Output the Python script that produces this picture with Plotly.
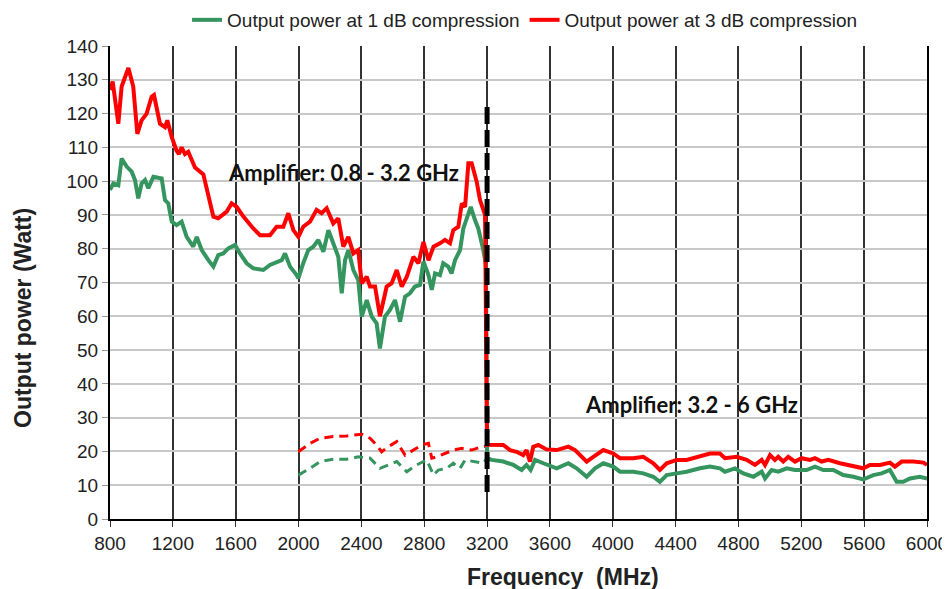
import plotly.graph_objects as go

# ---- data ----
freq_3db = [800, 817, 853, 874, 917, 948, 974, 1001, 1033, 1065, 1080, 1118, 1150, 1165, 1193, 1224, 1239, 1256, 1277, 1298,
            1341, 1394, 1458, 1489, 1543, 1574, 1606, 1649, 1712, 1755, 1818, 1861, 1903, 1935, 1967, 1999, 2030, 2073, 2115,
            2147, 2179, 2221, 2253, 2285, 2317, 2349, 2380, 2402, 2434, 2455, 2487, 2518, 2561, 2593, 2625, 2657, 2689, 2731,
            2763, 2795, 2827, 2859, 2900, 2932, 2964, 2985, 3017, 3039, 3060, 3081, 3102, 3134, 3155, 3187, 3200, 3229, 3303,
            3346, 3388, 3430, 3451, 3473, 3494, 3526, 3579, 3643, 3717, 3760, 3834, 3876, 3940, 4003, 4046, 4131, 4194, 4258,
            4300, 4343, 4407, 4470, 4534, 4619, 4682, 4714, 4789, 4852, 4905, 4948, 4969, 5001, 5032, 5053, 5085, 5117, 5160,
            5202, 5255, 5287, 5329, 5372, 5446, 5531, 5594, 5637, 5701, 5764, 5796, 5839, 5913, 5977, 6000]
power_3db = [127, 129.5, 117, 128, 133.5, 128, 114, 118, 120, 125, 125.5, 117, 116, 118, 113, 109, 108, 110, 108, 108.7,
             104, 102, 89.5, 89, 91, 93.4, 92.4, 89.5, 86, 84, 84, 86.5, 86.5, 90.5, 85.5, 83.5, 86.5, 88, 91.5,
             90.5, 92, 87.5, 89, 80.6, 83.5, 78.6, 79.6, 69.8, 71.7, 68.8, 68.8, 60, 68.8, 69.8, 73.7, 68.8, 71.7, 77.6,
             75.7, 82, 76.6, 80.6, 81.6, 82.6, 81.6, 85.5, 86.5, 93.4, 92.4, 105.3, 105.3, 99.8, 94.4, 90, 22, 21.9, 21.9,
             20.4, 19.9, 18.9, 20.4, 17, 21.4, 21.9, 20.6, 20.4, 21.4, 20.4, 17, 18.4, 20.4, 19.4, 18, 18, 18.4, 16.5,
             14.5, 16.5, 17.5, 17.5, 18.4, 19.4, 19.4, 18, 18.4, 17.5, 16, 17.5, 16, 18.9, 17.5, 18.4, 17, 18.4, 17,
             18, 17.5, 18, 17, 17.5, 16.5, 15.5, 15, 16, 16, 16.7, 15.5, 17, 17, 16.7, 16]

freq_1db = [800, 821, 853, 874, 906, 938, 959, 980, 1001, 1023, 1044, 1076, 1129, 1150, 1171, 1193, 1224, 1256, 1288, 1330,
            1352, 1384, 1426, 1458, 1489, 1521, 1553, 1596, 1627, 1670, 1712, 1776, 1818, 1850, 1893, 1914, 1946, 1988, 1999,
            2030, 2062, 2094, 2126, 2158, 2190, 2221, 2253, 2275, 2296, 2317, 2349, 2380, 2402, 2434, 2466, 2497, 2518, 2550,
            2582, 2614, 2646, 2678, 2709, 2741, 2773, 2795, 2827, 2848, 2869, 2900, 2921, 2953, 2974, 2996, 3028, 3049, 3070,
            3096, 3123, 3144, 3176, 3193, 3200, 3229, 3303, 3367, 3420, 3451, 3477, 3505, 3558, 3643, 3717, 3770, 3834, 3887,
            3940, 4003, 4046, 4131, 4194, 4258, 4300, 4343, 4407, 4470, 4555, 4619, 4682, 4714, 4778, 4831, 4895, 4948, 4969,
            5011, 5053, 5107, 5160, 5234, 5287, 5340, 5404, 5467, 5531, 5594, 5658, 5711, 5764, 5807, 5849, 5892, 5955, 6000]
power_1db = [97.4, 99.3, 98.8, 106.7, 104.3, 102.8, 100.3, 94.9, 99.3, 100.3, 97.9, 101.3, 100.8, 94.4, 93.4, 88, 87, 88, 83.5, 80.6,
             83.5, 79.6, 76.6, 74.7, 78.1, 78.6, 80.1, 81.1, 78.6, 75.7, 74.2, 73.7, 75.2, 75.7, 76.6, 78.6, 74.7, 72.2, 71.2,
             75.7, 79.6, 80.6, 82.6, 79.1, 85.5, 81.6, 77.6, 66.8, 76.6, 79.6, 73.7, 70.7, 59.9, 64.8, 59.9, 57.9, 50.5, 59.9,
             61.9, 64.8, 58.4, 65.8, 66.8, 68.8, 69.3, 76.2, 72.2, 67.8, 72.7, 72.2, 75.7, 74.7, 72.7, 76.6, 79.6, 86, 88.5,
             92.4, 88.5, 86, 79.6, 75.2, 18, 17.5, 17, 16, 14.5, 16, 14.5, 17.5, 16.5, 15, 16.5, 15, 12.5, 15,
             16.5, 15.5, 14, 14, 13.5, 12.5, 11, 13, 13.5, 14, 15, 15.5, 15, 14, 15, 13.5, 12.5, 14, 12,
             14.5, 14, 15, 14.5, 14.5, 15.5, 14.5, 14.5, 13, 12.5, 11.7, 13, 13.5, 14.5, 11, 11, 12, 12.5, 12]

# low-frequency extension of the 3.2-6 GHz amplifier (dashed)
freq_3db_ext = [1999, 2073, 2137, 2221, 2306, 2402, 2455, 2497, 2529, 2571, 2625, 2678, 2731, 2784, 2827, 2848, 2880,
                2932, 2985, 3039, 3102, 3166, 3200]
power_3db_ext = [19.9, 22.4, 23.9, 24.4, 24.6, 25.1, 23.9, 21.9, 19.9, 21.4, 22.9, 18.9, 20.4, 21.9, 22.4, 18, 18.4,
                 19.4, 20.4, 20.9, 20.4, 21.4, 21.6]
freq_1db_ext = [1999, 2073, 2137, 2221, 2306, 2380, 2455, 2518, 2571, 2625, 2689, 2752, 2816, 2859, 2890, 2943, 2985,
                3028, 3060, 3113, 3176, 3200]
power_1db_ext = [13, 15, 17, 17.7, 17.7, 18.4, 18, 15, 16, 17, 14, 16, 17.5, 13, 14.5, 15, 16.5,
                 15, 17.5, 17, 16.5, 18]

divider_freq = [3200, 3200]
divider_power = [8, 123]

x_ticks = [800, 1200, 1600, 2000, 2400, 2800, 3200, 3600, 4000, 4400, 4800, 5200, 5600, 6000]
y_ticks = [0, 10, 20, 30, 40, 50, 60, 70, 80, 90, 100, 110, 120, 130, 140]

GREEN = "#35955f"
RED = "#ff0000"

fig = go.Figure()
fig.add_trace(go.Scatter(x=freq_1db_ext, y=power_1db_ext, mode="lines", showlegend=False,
                         line=dict(color=GREEN, width=3, dash="9px,6px")))
fig.add_trace(go.Scatter(x=freq_3db_ext, y=power_3db_ext, mode="lines", showlegend=False,
                         line=dict(color=RED, width=3, dash="9px,6px")))
fig.add_trace(go.Scatter(x=freq_1db, y=power_1db, mode="lines", name="Output power at 1 dB compression",
                         line=dict(color=GREEN, width=4)))
fig.add_trace(go.Scatter(x=freq_3db, y=power_3db, mode="lines", name="Output power at 3 dB compression",
                         line=dict(color=RED, width=4)))
fig.add_trace(go.Scatter(x=divider_freq, y=divider_power, mode="lines", showlegend=False,
                         line=dict(color="black", width=5, dash="17px,6px")))

fig.add_annotation(x=2289, y=102.7, text="<b>Amplifier: 0.8 - 3.2 GHz</b>", showarrow=False,
                   font=dict(family="Lato", size=22, color="#111111"))
fig.add_annotation(x=4498, y=34, text="<b>Amplifier: 3.2 - 6 GHz</b>", showarrow=False,
                   font=dict(family="Lato", size=22, color="#111111"))
fig.add_annotation(xref="paper", yref="paper", x=0.5545, y=-0.1226, xanchor="center", yanchor="middle",
                   text="<b>Frequency\u00a0\u00a0(MHz)</b>",
                   showarrow=False, font=dict(family="Liberation Sans", size=23, color="#222222"))
fig.add_annotation(xref="paper", yref="paper", x=-0.1065, y=0.425, xanchor="center", yanchor="middle",
                   text="<b>Output power (Watt)</b>",
                   showarrow=False, textangle=-90, font=dict(family="Liberation Sans", size=23, color="#222222"))

fig.update_layout(
    width=942, height=581,
    margin=dict(l=102, r=23, t=38, b=70, autoexpand=False),
    paper_bgcolor="white", plot_bgcolor="white",
    font=dict(family="Liberation Sans", size=19, color="#222222"),
    legend=dict(orientation="h", x=0.508, xanchor="center", y=1.055, yanchor="middle",
                font=dict(family="Liberation Sans", size=19, color="#222222"), itemwidth=30,
                bgcolor="rgba(0,0,0,0)"),
    showlegend=True,
)
fig.update_xaxes(range=[800, 6000], tickvals=x_ticks, ticktext=[str(v) for v in x_ticks],
                 showgrid=True, gridcolor="#333333", gridwidth=1.5,
                 showline=True, linecolor="black", linewidth=2,
                 ticks="outside", ticklen=6, tickcolor="#333333", zeroline=False)
fig.update_yaxes(range=[0, 140], tickvals=y_ticks,
                 showgrid=True, gridcolor="#c8c8c8", gridwidth=1.5,
                 showline=True, linecolor="black", linewidth=2, mirror=True,
                 ticks="outside", ticklen=6, tickcolor="#999999", zeroline=False)

fig.write_html("out.html")
